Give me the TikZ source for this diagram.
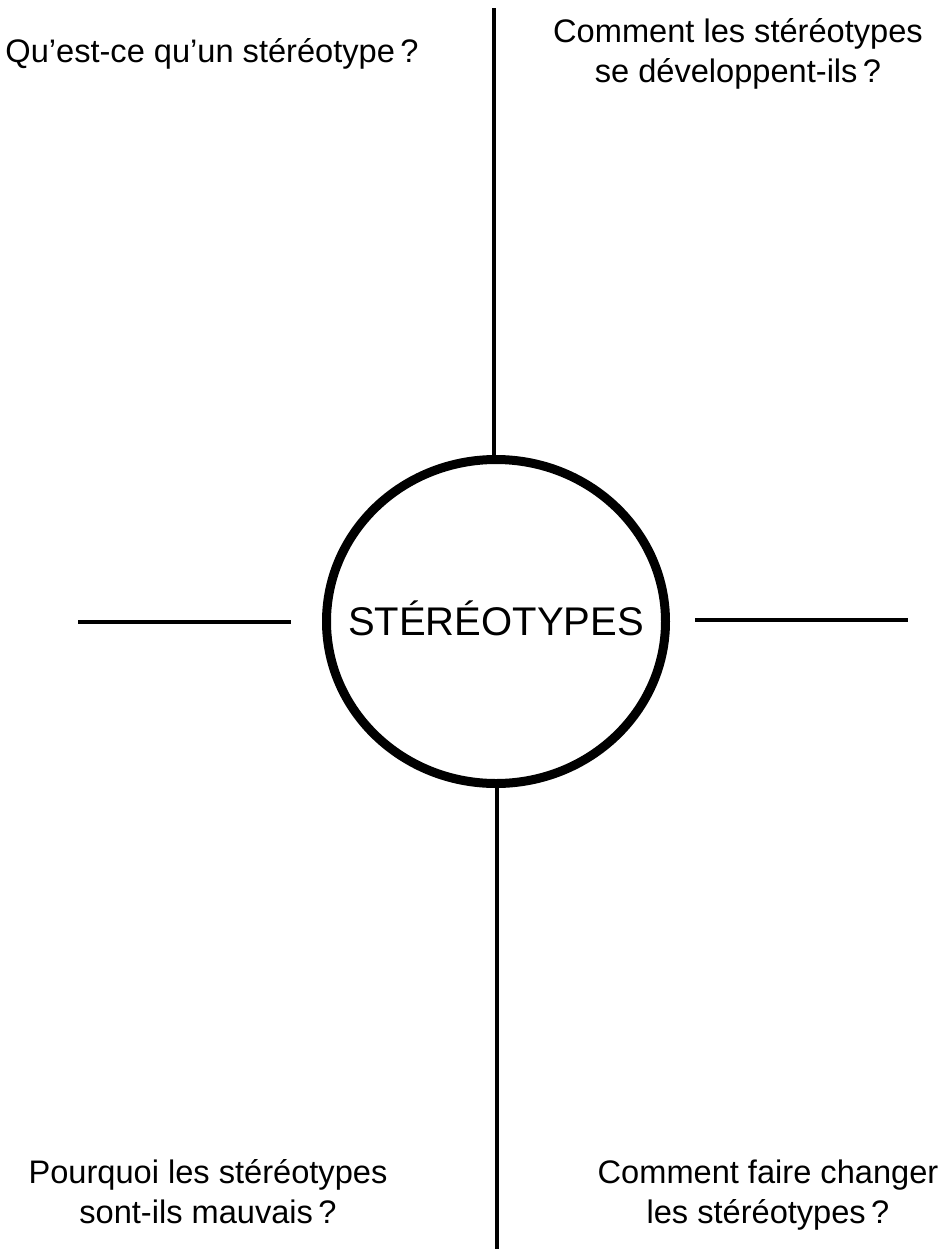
\documentclass[tikz,border=0pt]{standalone}
\usepackage{fontspec}
\setmainfont{Liberation Sans}
\usepackage{tikz}
\usetikzlibrary{shapes.geometric, positioning, calc}
\tikzstyle{hubnode} = [ellipse, draw=black, line width=4.5pt, minimum width=169.5pt, minimum height=162pt, inner sep=0pt, text height=14pt, text depth=0pt, font=\fontsize{20}{24}\selectfont]
\tikzstyle{question} = [align=center, anchor=base, inner sep=0pt, font=\fontsize{16.3}{20}\selectfont]
\tikzstyle{spoke} = [line width=2pt, black]

\begin{document}
\begin{tikzpicture}[x=0.5pt, y=-0.5pt]
            \useasboundingbox (0,0) rectangle (946,1249);
            % Centre
            \node (hub) [hubnode] at (496,621.5) {\makebox[0pt]{STÉRÉOTYPES}};

            % Questions (base = last line)
            \node (what) [question] at (212,62) {Qu’est-ce qu’un stéréotype\,?};
            \node (how) [question] at (738,82) {Comment les stéréotypes\\se développent-ils\,?};
            \node (why) [question] at (208,1223) {Pourquoi les stéréotypes\\sont-ils mauvais\,?};
            \node (change) [question] at (768,1223) {Comment faire changer\\les stéréotypes\,?};

            % Free ends of the lines
            \coordinate (topend) at (494,8);
            \coordinate (botend) at (497,1249);
            \coordinate (lfar) at (78,622);
            \coordinate (lnear) at (291,622);
            \coordinate (rnear) at (695,620);
            \coordinate (rfar) at (908,620);

            % Lines
            \draw [spoke] (hub.north -| topend) -- (topend);
            \draw [spoke] (hub.south -| botend) -- (botend);
            \draw [spoke] (lfar) -- (lnear);
            \draw [spoke] (rnear) -- (rfar);
        \end{tikzpicture}
\end{document}
